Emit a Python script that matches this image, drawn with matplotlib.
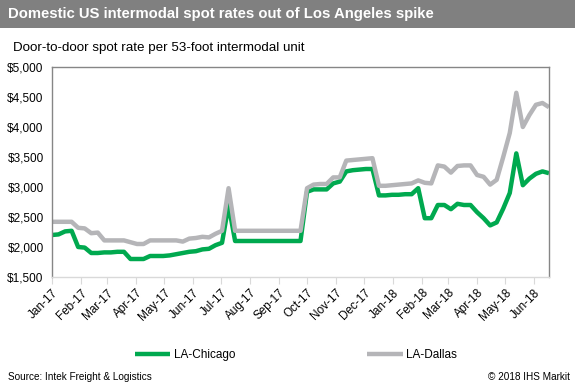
import matplotlib
matplotlib.use("Agg")
import matplotlib.pyplot as plt
import matplotlib.dates as mdates
from matplotlib.patches import Rectangle
from matplotlib.ticker import FuncFormatter
import pandas as pd

# weekly spot rates, Jan 2017 - Jun 2018
dates = pd.date_range("2017-01-01", periods=77, freq="7D")
la_chicago = [2200, 2210, 2260, 2270, 2000, 1990, 1900, 1900, 1910, 1910,
              1920, 1920, 1800, 1800, 1800, 1850, 1850, 1850, 1860, 1880,
              1900, 1920, 1930, 1960, 1970, 2030, 2070, 2700, 2100, 2100,
              2100, 2100, 2100, 2100, 2100, 2100, 2100, 2100, 2100, 2920,
              2960, 2960, 2960, 3060, 3090, 3260, 3280, 3290, 3300, 3300,
              2860, 2860, 2870, 2870, 2880, 2880, 2980, 2480, 2480, 2700,
              2700, 2630, 2720, 2700, 2700, 2580, 2480, 2360, 2410, 2640,
              2900, 3560, 3030, 3140, 3220, 3260, 3230]
la_dallas = [2420, 2420, 2420, 2420, 2320, 2310, 2230, 2240, 2110, 2110,
             2110, 2110, 2080, 2050, 2050, 2110, 2110, 2110, 2110, 2110,
             2090, 2140, 2150, 2170, 2160, 2220, 2270, 2980, 2270, 2270,
             2270, 2270, 2270, 2270, 2270, 2270, 2270, 2270, 2270, 2980,
             3040, 3050, 3050, 3160, 3160, 3440, 3450, 3460, 3470, 3480,
             3020, 3020, 3030, 3040, 3050, 3060, 3110, 3070, 3060, 3360,
             3340, 3240, 3350, 3360, 3360, 3200, 3170, 3040, 3120, 3500,
             3900, 4570, 4000, 4200, 4370, 4400, 4330]

title = "Domestic US intermodal spot rates out of Los Angeles spike"
subtitle = "Door-to-door spot rate per 53-foot intermodal unit"
source = "Source: Intek Freight & Logistics"
copyright_txt = "\u00a9 2018 IHS Markit"

plt.rcParams['font.family'] = ['Liberation Sans', 'DejaVu Sans']

W, H = 575, 384
fig = plt.figure(figsize=(W / 100, H / 100), dpi=100)

# header banner
fig.patches.append(Rectangle((0, 1 - 28 / H), 1, 28 / H, transform=fig.transFigure,
                             facecolor='#808080', edgecolor='none', zorder=0))
fig.text(8 / W, 1 - 14 / H, title, color='white', fontsize=10.7,
         fontweight='bold', va='center', ha='left')
fig.text(13 / W, 1 - 48 / H, subtitle, color='black', fontsize=9.6,
         va='center', ha='left')

ax = fig.add_axes([52 / W, 1 - 277 / H, (549 - 52) / W, (277 - 67) / H])
ax.plot(dates, la_chicago, color='#00a94f', lw=3.2, label='LA-Chicago',
        solid_joinstyle='round', solid_capstyle='butt')
ax.plot(dates, la_dallas, color='#b5b5b8', lw=3.2, label='LA-Dallas',
        solid_joinstyle='round', solid_capstyle='butt')

ax.set_ylim(1500, 5000)
ax.set_yticks(range(1500, 5001, 500))
ax.yaxis.set_major_formatter(FuncFormatter(lambda v, p: f"${v:,.0f}"))
ax.set_xlim(dates[0], dates[-1])

ax.xaxis.set_major_locator(mdates.MonthLocator())
ax.xaxis.set_major_formatter(mdates.DateFormatter('%b-%y'))
for lbl in ax.get_xticklabels():
    lbl.set_rotation(45)
    lbl.set_ha('right')
    lbl.set_rotation_mode('anchor')

ax.tick_params(axis='y', length=0, labelsize=8.5, pad=6)
ax.tick_params(axis='x', length=5, color='#d9d9d9', labelsize=8.5, pad=2)

for s in ['top', 'left', 'right']:
    ax.spines[s].set_color('#868686')
    ax.spines[s].set_linewidth(1)
ax.spines['bottom'].set_color('#d9d9d9')
ax.spines['bottom'].set_linewidth(1)

fig.legend(loc='center left', bbox_to_anchor=(124 / W, 1 - 355 / H), ncol=2,
           frameon=False, fontsize=8.5, handlelength=3.0, handletextpad=0.3,
           columnspacing=11.2)

fig.text(8 / W, 1 - 377 / H, source, fontsize=7.2, va='center', ha='left')
fig.text(570 / W, 1 - 377 / H, copyright_txt, fontsize=7.2, va='center', ha='right')

fig.savefig('out.png', dpi=100)
